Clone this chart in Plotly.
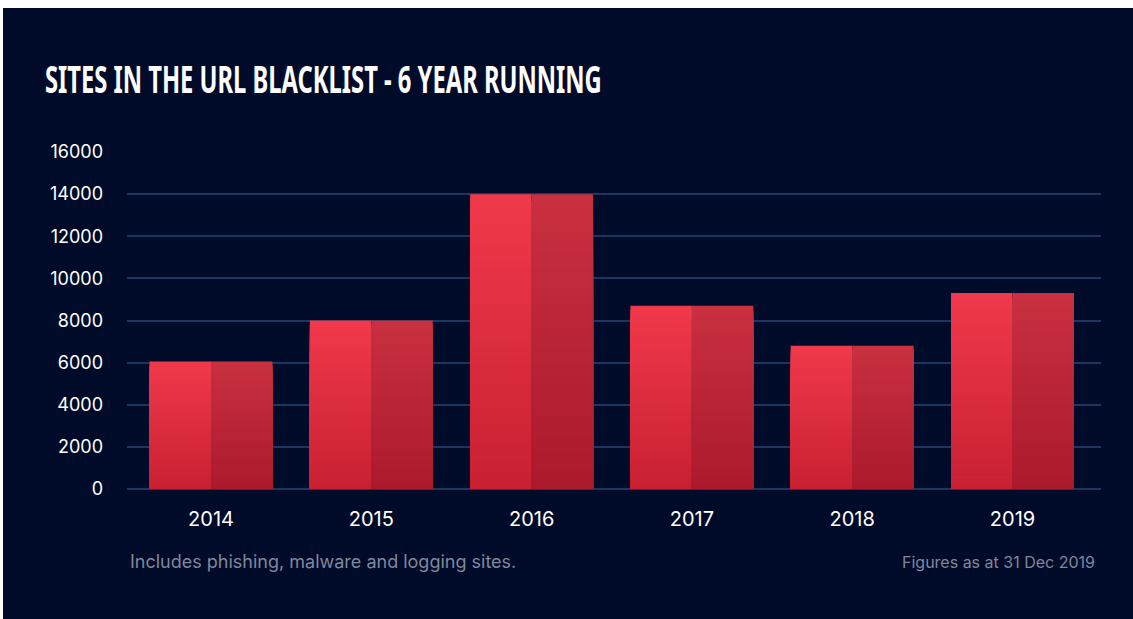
import plotly.graph_objects as go

years = ["2014", "2015", "2016", "2017", "2018", "2019"]
sites = [6050, 8000, 14000, 8700, 6800, 9300]
y_ticks = [0, 2000, 4000, 6000, 8000, 10000, 12000, 14000, 16000]

title_text = "SITES IN THE URL BLACKLIST - 6 YEAR RUNNING"
note_left = "Includes phishing, malware and logging sites."
note_right = "Figures as at 31 Dec 2019"

# page offset of the figure (body margin set in post_script)
OX, OY = 3, 8
W, H = 1133 - OX, 619 - OY
# plot area in absolute page pixels
X0, X1, Y0, Y1 = 127, 1101, 152, 489
ML, MR, MT, MB = X0 - OX, W - (X1 - OX), Y0 - OY, H - (Y1 - OY)
PW, PH = X1 - X0, Y1 - Y0
TITLE_W = 557  # target rendered width of the condensed title

BG = "#000b29"
GRID = "#1b365f"
N = 40  # gradient steps per half bar


def lerp(c1, c2, t):
    a = [int(c1[i:i + 2], 16) for i in (1, 3, 5)]
    b = [int(c2[i:i + 2], 16) for i in (1, 3, 5)]
    return "rgb(%d,%d,%d)" % tuple(round(a[k] + (b[k] - a[k]) * t) for k in range(3))


halves = [
    ("left", "#c92033", "#f0394b"),
    ("right", "#ab1a2b", "#c93040"),
]

fig = go.Figure()
for name, bottom, top in halves:
    # overlaid bars: tallest (top colour) first, shorter darker ones on top
    for i in range(N):
        frac = (N - i) / N
        t = (N - i - 0.5) / N
        fig.add_trace(go.Bar(
            x=years,
            y=[v * frac for v in sites],
            offsetgroup=name,
            marker=dict(color=lerp(bottom, top, t), line=dict(width=0)),
            showlegend=False,
            hoverinfo="skip",
        ))

fig.update_layout(
    width=W, height=H,
    margin=dict(l=ML, r=MR, t=MT, b=MB, pad=0),
    paper_bgcolor=BG, plot_bgcolor=BG,
    barmode="group", bargap=0.233, bargroupgap=0,
    font=dict(family="Inter, Roboto, sans-serif", color="white", size=18),
    title=dict(
        text=title_text,
        x=(45 - OX) / W, xanchor="left", xref="container",
        y=1 - (80 - OY) / H, yanchor="middle", yref="container",
        font=dict(family="Noto Sans ExtraCondensed, Noto Sans Condensed, Noto Sans, DejaVu Sans, sans-serif",
                  size=38, color="white", weight="bold"),
    ),
    xaxis=dict(
        type="category", range=[-0.524, 5.552],
        showgrid=False, zeroline=False, showline=False, ticks="",
        tickfont=dict(size=20, color="white"),
        ticklabelstandoff=16,
    ),
    yaxis=dict(
        range=[0, 16000], tickvals=y_ticks, ticktext=[str(v) for v in y_ticks],
        showgrid=True, gridcolor=GRID, gridwidth=1.5,
        zeroline=True, zerolinecolor=GRID, zerolinewidth=1.5,
        showline=False, ticks="",
        tickfont=dict(size=18, color="white"),
        ticklabelstandoff=23,
    ),
    annotations=[
        dict(text=note_left, xref="paper", yref="paper",
             x=(128 - X0) / PW, y=-(561 - Y1) / PH, xanchor="left", yanchor="middle",
             showarrow=False, font=dict(size=18, color="#80879c")),
        dict(text=note_right, xref="paper", yref="paper",
             x=(1097 - X0) / PW, y=-(562 - Y1) / PH, xanchor="right", yanchor="middle",
             showarrow=False, font=dict(size=16, color="#80879c")),
    ],
)

post = """
document.body.style.margin='%dpx 0 0 %dpx';
var el = document.querySelector('.gtitle');
if (el) {
  var bb = el.getBBox();
  var s = %d / bb.width;
  var x = parseFloat(el.getAttribute('x'));
  el.setAttribute('transform', 'translate(' + x + ',0) scale(' + s + ',1) translate(' + (-x) + ',0)');
}
""" % (OY, OX, TITLE_W)

fig.write_html("out.html", post_script=post)
